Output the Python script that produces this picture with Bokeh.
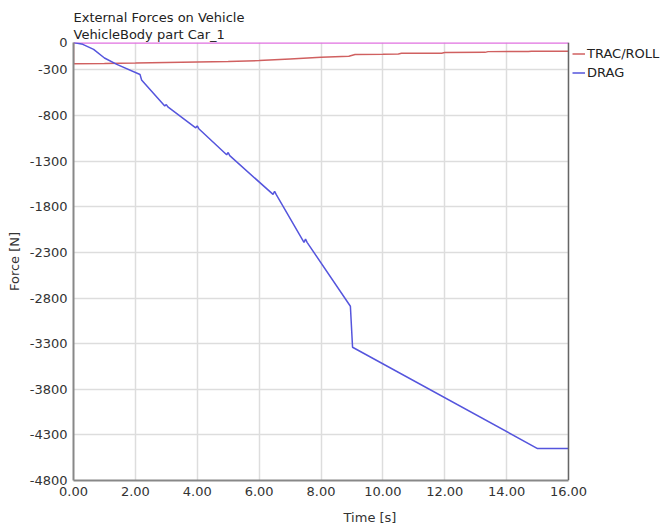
from bokeh.plotting import figure
from bokeh.models import (FixedTicker, NumeralTickFormatter, Legend, LegendItem, Range1d,
                          Title, Span, BoxAnnotation)
from bokeh.embed import file_html
from bokeh.resources import INLINE

# Time samples [s] and forces [N] on the vehicle body
drag_t = [0.0, 0.3, 0.65, 1.0, 1.4, 2.15, 2.2, 2.95, 3.0, 3.05, 3.95, 4.0, 4.05,
          4.95, 5.0, 5.05, 6.45, 6.5, 6.55, 7.45, 7.5, 7.55, 8.95, 9.02, 15.0, 16.0]
drag_f = [0, -20, -75, -170, -240, -350, -410, -695, -680, -705, -935, -915, -945,
          -1230, -1205, -1240, -1665, -1630, -1665, -2190, -2155, -2190, -2890, -3340, -4450, -4450]

trac_t = [0.0, 0.0, 1.0, 2.0, 3.0, 4.0, 5.0, 6.0, 7.0, 8.0, 8.9, 9.1, 10.0, 10.5, 10.6,
          11.9, 12.0, 13.3, 13.4, 14.7, 14.8, 16.0]
trac_f = [0, -232, -230, -226, -220, -214, -207, -198, -180, -163, -150, -132, -128, -125, -119,
          -117, -110, -108, -100, -98, -95, -95]

ref_t = [0.0, 16.0]
ref_f = [0, 0]

y_ticks = [0, -300, -800, -1300, -1800, -2300, -2800, -3300, -3800, -4300, -4800]
x_ticks = [0, 2, 4, 6, 8, 10, 12, 14, 16]

T_END = 16.0
FONT = "DejaVu Sans"
FS = "13px"

# The frame runs to the right edge so the legend beside the plot area is not clipped;
# the time axis itself is bounded to 0..16 s.
PLOT_W, LEFT = 495, 73
x_end = T_END * (666 - LEFT) / PLOT_W

p = figure(width=666, height=527, output_backend="svg", toolbar_location=None,
           x_range=Range1d(0, x_end), y_range=Range1d(-4800, 0),
           min_border_left=LEFT, min_border_right=0, min_border_top=42, min_border_bottom=47,
           x_axis_label="Time [s]", y_axis_label="Force [N]")
p.title = None

# Two-line heading, second line nearest the frame
for txt, standoff in (("VehicleBody part Car_1", 1), ("External Forces on Vehicle", 0)):
    p.add_layout(Title(text=txt, align="left", offset=0, text_font=FONT,
                       text_font_size=FS, text_font_style="normal",
                       text_color="#222222", standoff=standoff), "above")

p.background_fill_color = "white"
p.border_fill_color = "white"
p.outline_line_color = None

for ax in (p.xaxis[0], p.yaxis[0]):
    ax.axis_line_color = "#888888"
    ax.axis_line_width = 2
    ax.major_tick_in = 0
    ax.major_tick_out = 0
    ax.minor_tick_in = 0
    ax.minor_tick_out = 0
    ax.major_label_text_font = FONT
    ax.major_label_text_font_size = FS
    ax.major_label_text_color = "#333333"
    ax.axis_label_text_font = FONT
    ax.axis_label_text_font_size = FS
    ax.axis_label_text_font_style = "normal"
    ax.axis_label_text_color = "#333333"

p.xaxis.ticker = FixedTicker(ticks=x_ticks)
p.xaxis.bounds = (0, T_END)
p.xaxis.formatter = NumeralTickFormatter(format="0.00")
p.xaxis.major_label_standoff = 6
p.xaxis.axis_label_standoff = 11
p.yaxis.ticker = FixedTicker(ticks=y_ticks)
p.yaxis.formatter = NumeralTickFormatter(format="0")
p.yaxis.major_label_standoff = 6
p.yaxis.axis_label_standoff = 5

p.xgrid.grid_line_color = "#dddddd"
p.ygrid.grid_line_color = "#dddddd"
p.xgrid.grid_line_width = 1.5
p.ygrid.grid_line_width = 1.5

p.line(ref_t, ref_f, line_color="#e070e0", line_width=2.5)
r_trac = p.line(trac_t, trac_f, line_color="#d06060", line_width=1.5)
r_drag = p.line(drag_t, drag_f, line_color="#5555dd", line_width=1.5)

# Blank strip right of the plot area, then the dark frame edge
p.add_layout(BoxAnnotation(left=T_END, fill_color="white", fill_alpha=1.0, line_alpha=0))
p.add_layout(Span(location=T_END, dimension="height", line_color="#666666", line_width=1.5))

legend = Legend(items=[LegendItem(label="TRAC/ROLL", renderers=[r_trac]),
                       LegendItem(label="DRAG", renderers=[r_drag])],
                location=(PLOT_W + 4, 398), orientation="vertical",
                glyph_width=13, glyph_height=19, label_height=19, label_standoff=2,
                spacing=0, padding=0, margin=0,
                border_line_alpha=0, background_fill_alpha=0,
                label_text_font=FONT, label_text_font_size=FS,
                label_text_color="#222222")
p.add_layout(legend)

open("out.html", "w").write(file_html(p, INLINE))
